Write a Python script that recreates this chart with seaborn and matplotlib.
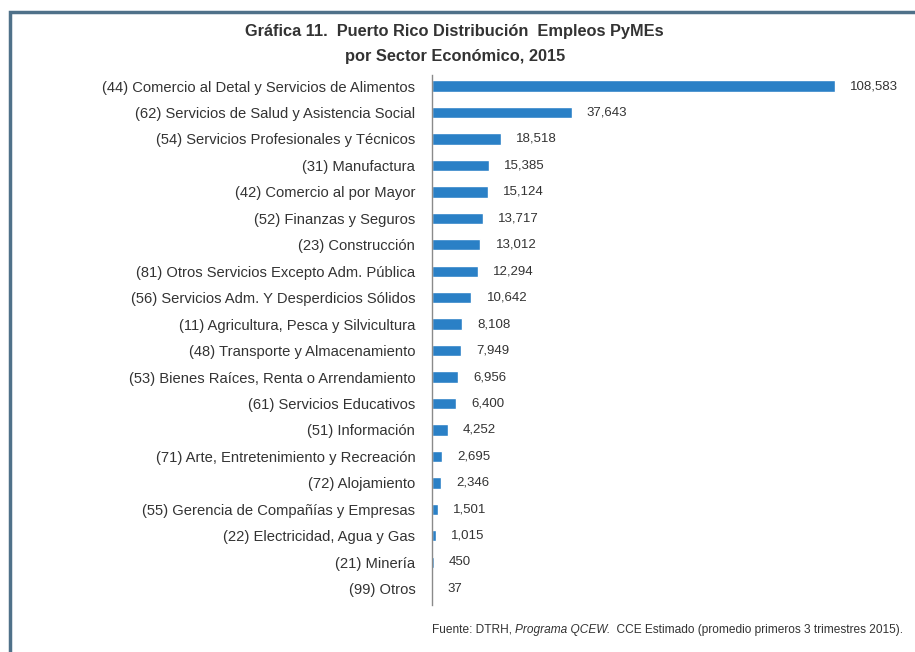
import matplotlib
matplotlib.use("Agg")
import matplotlib.pyplot as plt
import seaborn as sns
import pandas as pd
from matplotlib.patches import Rectangle

# data
sectors = [
    "(44) Comercio al Detal y Servicios de Alimentos",
    "(62) Servicios de Salud y Asistencia Social",
    "(54) Servicios Profesionales y Técnicos",
    "(31) Manufactura",
    "(42) Comercio al por Mayor",
    "(52) Finanzas y Seguros",
    "(23) Construcción",
    "(81) Otros Servicios Excepto Adm. Pública",
    "(56) Servicios Adm. Y Desperdicios Sólidos",
    "(11) Agricultura, Pesca y Silvicultura",
    "(48) Transporte y Almacenamiento",
    "(53) Bienes Raíces, Renta o Arrendamiento",
    "(61) Servicios Educativos",
    "(51) Información",
    "(71) Arte, Entretenimiento y Recreación",
    "(72) Alojamiento",
    "(55) Gerencia de Compañías y Empresas",
    "(22) Electricidad, Agua y Gas",
    "(21) Minería",
    "(99) Otros",
]
empleos = [108583, 37643, 18518, 15385, 15124, 13717, 13012, 12294, 10642,
           8108, 7949, 6956, 6400, 4252, 2695, 2346, 1501, 1015, 450, 37]

df = pd.DataFrame({"sector": sectors, "empleos": empleos})

sns.set_style("white")
plt.rcParams['font.family'] = ['Liberation Sans', 'DejaVu Sans']

fig = plt.figure(figsize=(9.15, 6.52), dpi=100)
ax = fig.add_axes([0.4721, 0.072, 0.507, 0.813])

sns.barplot(data=df, x="empleos", y="sector", color="#2a80c6", width=0.43,
            saturation=1, ax=ax)

for i, v in enumerate(empleos):
    ax.annotate(f"{v:,}", xy=(v, i), xytext=(11, 0), textcoords="offset points",
                va="center", ha="left", fontsize=9.5, color="#333333")

ax.set_xlim(0, 125000)
ax.set_ylim(19.62, -0.42)
ax.set_xlabel("")
ax.set_ylabel("")
ax.set_xticks([])
ax.tick_params(axis="y", length=0, pad=12, labelsize=10.6, labelcolor="#333333")
for s in ["top", "right", "bottom"]:
    ax.spines[s].set_visible(False)
ax.spines["left"].set_color("#8a8a8a")
ax.spines["left"].set_linewidth(1)

fig.text(0.497, 0.951, "Gráfica 11.  Puerto Rico Distribución  Empleos PyMEs",
         ha="center", va="center", fontsize=11.8, fontweight="bold", color="#333333")
fig.text(0.497, 0.914, "por Sector Económico, 2015",
         ha="center", va="center", fontsize=11.8, fontweight="bold", color="#333333")

# footer with italic part
fy = 0.034
fs = 8.6
t1 = fig.text(0.472, fy, "Fuente: DTRH, ", ha="left", va="center", fontsize=fs, color="#333333")
fig.canvas.draw()
r = fig.canvas.get_renderer()
bb = t1.get_window_extent(r)
x2 = bb.x1 / fig.bbox.width
t2 = fig.text(x2, fy, "Programa QCEW.", ha="left", va="center", fontsize=fs,
              style="italic", color="#333333")
bb2 = t2.get_window_extent(r)
x3 = bb2.x1 / fig.bbox.width
fig.text(x3, fy, "  CCE Estimado (promedio primeros 3 trimestres 2015).", ha="left",
         va="center", fontsize=fs, color="#333333")

# frame around chart
fig.patches.append(Rectangle((0.011, -0.05), 1.05, 1.031, transform=fig.transFigure,
                             fill=False, edgecolor="#4f7189", linewidth=2.5))

fig.savefig("out.png", dpi=100)
